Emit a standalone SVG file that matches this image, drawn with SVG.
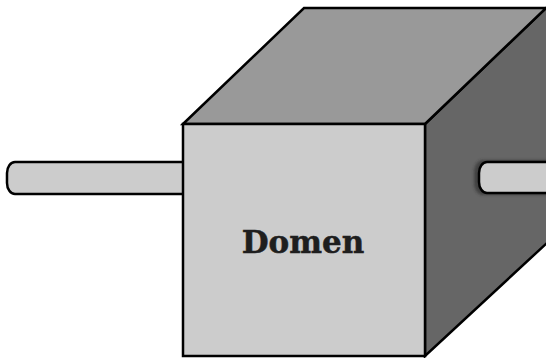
<svg xmlns="http://www.w3.org/2000/svg" width="546" height="358" viewBox="0 0 546 358">
  <style>
    .edge { stroke: #000; stroke-width: 2.5; stroke-linejoin: miter; }
    .rod { fill: #cccccc; stroke: #000; stroke-width: 2.5; }
    .label { font-family: "DejaVu Serif", "Liberation Serif", serif; font-weight: bold; font-size: 31px; fill: #1e1e1e; stroke: #1e1e1e; stroke-width: 0.5; }
  </style>
  <defs>
    <filter id="soft" x="-50%" y="-50%" width="200%" height="200%">
      <feGaussianBlur stdDeviation="1.5"/>
    </filter>
  </defs>

  <!-- shaft entering from the left -->
  <g id="shaft-in">
    <rect class="rod" x="7" y="162" width="200" height="32" rx="8" ry="11"/>
  </g>

  <!-- the box itself -->
  <g id="domain-box">
    <polygon class="edge" fill="#666666" points="425,124 546,8 562,8 562,229 425,356"/>
    <polygon class="edge" fill="#999999" points="183,124 304,8 562,8 546,8 425,124"/>
    <rect class="edge" fill="#cccccc" x="183" y="124" width="242" height="232"/>
    <text class="label" x="303" y="253" text-anchor="middle">Domen</text>
  </g>

  <!-- shaft leaving on the right -->
  <g id="shaft-out">
    <rect x="474" y="160" width="90" height="35" rx="9" ry="12" fill="#222" opacity="0.55" filter="url(#soft)"/>
    <rect class="rod" x="479" y="162" width="90" height="31" rx="8" ry="11"/>
  </g>
</svg>
